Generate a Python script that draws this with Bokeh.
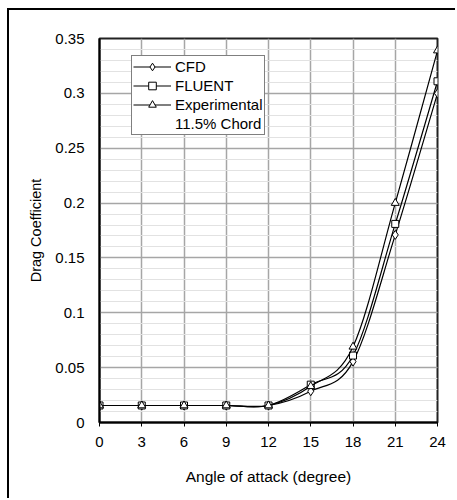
from bokeh.plotting import figure
from bokeh.models import (Range1d, FixedTicker, NumeralTickFormatter, Legend, LegendItem,
                          ColumnDataSource)
from bokeh.embed import file_html
from bokeh.resources import INLINE

# ---- data ----
angle = [0, 3, 6, 9, 12, 15, 18, 21, 24]
cfd = [0.0155, 0.0155, 0.0155, 0.0155, 0.0155, 0.0285, 0.0555, 0.171, 0.300]
fluent = [0.0155, 0.0155, 0.0155, 0.0155, 0.0155, 0.0345, 0.061, 0.181, 0.311]
experimental = [0.0155, 0.0155, 0.0155, 0.0155, 0.0155, 0.033, 0.069, 0.200, 0.339]
x_ticks = [0, 3, 6, 9, 12, 15, 18, 21, 24]
y_ticks = [0, 0.05, 0.1, 0.15, 0.2, 0.25, 0.3, 0.35]
y_minor = [round(i * 0.01, 2) for i in range(36)]

FONT = "Liberation Sans"

p = figure(width=448, height=490, output_backend="svg", toolbar_location=None,
           x_range=Range1d(0, 24), y_range=Range1d(0, 0.35),
           min_border_left=90, min_border_right=20, min_border_top=28, min_border_bottom=78)
p.styles = {"margin-left": "7px", "margin-top": "8px",
            "border-left": "2px solid #000", "border-top": "2px solid #000"}

p.outline_line_color = "#222222"
p.outline_line_width = 2

# axes
p.xaxis.ticker = FixedTicker(ticks=x_ticks)
p.yaxis.ticker = FixedTicker(ticks=y_ticks, minor_ticks=y_minor)
p.yaxis.formatter = NumeralTickFormatter(format="0.[00]")
for ax in (p.xaxis, p.yaxis):
    ax.axis_line_color = "#000000"
    ax.axis_line_width = 2
    ax.major_label_text_font = FONT
    ax.major_label_text_font_size = "15px"
    ax.major_label_text_color = "#000000"
    ax.axis_label_text_font = FONT
    ax.axis_label_text_font_style = "normal"
    ax.axis_label_text_color = "#000000"
    ax.minor_tick_line_color = None
p.xaxis.axis_label_text_font_size = "15.5px"
p.yaxis.axis_label_text_font_size = "14.5px"
p.xaxis.major_tick_out = 4
p.xaxis.major_tick_in = 0
p.xaxis.major_tick_line_color = "#000000"
p.yaxis.major_tick_out = 0
p.yaxis.major_tick_in = 0
p.xaxis.major_label_standoff = 10
p.yaxis.major_label_standoff = 11
p.xaxis.axis_label_standoff = 18
p.yaxis.axis_label_standoff = 8
p.xaxis.axis_label = "Angle of attack (degree)"
p.yaxis.axis_label = "Drag Coefficient"

# grid
p.xgrid.grid_line_color = "#a6a6a6"
p.xgrid.grid_line_width = 1.5
p.ygrid.grid_line_color = "#a6a6a6"
p.ygrid.grid_line_width = 1.5
p.ygrid.minor_grid_line_color = "#e2e2e2"
p.ygrid.minor_grid_line_width = 1


def smooth_segments(xs, ys):
    n = len(xs)
    d = dict(x0=[], y0=[], x1=[], y1=[], cx0=[], cy0=[], cx1=[], cy1=[])
    for i in range(n - 1):
        im = max(i - 1, 0)
        ip = min(i + 2, n - 1)
        d["x0"].append(xs[i]); d["y0"].append(ys[i])
        d["x1"].append(xs[i + 1]); d["y1"].append(ys[i + 1])
        d["cx0"].append(xs[i] + (xs[i + 1] - xs[im]) / 6)
        d["cy0"].append(ys[i] + (ys[i + 1] - ys[im]) / 6)
        d["cx1"].append(xs[i + 1] - (xs[ip] - xs[i]) / 6)
        d["cy1"].append(ys[i + 1] - (ys[ip] - ys[i]) / 6)
    return ColumnDataSource(d)


NAN = float("nan")
series = [("CFD", cfd, "diamond", 9), ("FLUENT", fluent, "square", 7),
          ("Experimental", experimental, "triangle", 8)]
items = []
for name, ys, marker, sz in series:
    p.bezier(x0="x0", y0="y0", x1="x1", y1="y1", cx0="cx0", cy0="cy0", cx1="cx1", cy1="cy1",
             source=smooth_segments(angle, ys), line_color="#000000", line_width=1.2)
    # legend proxy line (nothing drawn in the plot area)
    lr = p.line(x=[NAN, NAN], y=[NAN, NAN], line_color="#000000", line_width=1.2)
    sr = p.scatter(x=angle, y=ys, marker=marker, size=sz, fill_color="white",
                   line_color="#000000", line_width=1)
    items.append(LegendItem(label=name, renderers=[lr, sr]))

dummy = p.line(x=[NAN, NAN], y=[NAN, NAN], line_alpha=0)
items.append(LegendItem(label="11.5% Chord", renderers=[dummy]))

legend = Legend(items=items, location=(32, 287), margin=0, padding=1,
                spacing=0, label_height=19, glyph_height=19, glyph_width=38,
                label_standoff=4, border_line_color="#000000", border_line_width=1.5,
                background_fill_color="white", background_fill_alpha=1,
                label_text_font=FONT, label_text_font_size="15px",
                label_text_color="#000000")
p.add_layout(legend)

open("out.html", "w").write(file_html(p, INLINE))
